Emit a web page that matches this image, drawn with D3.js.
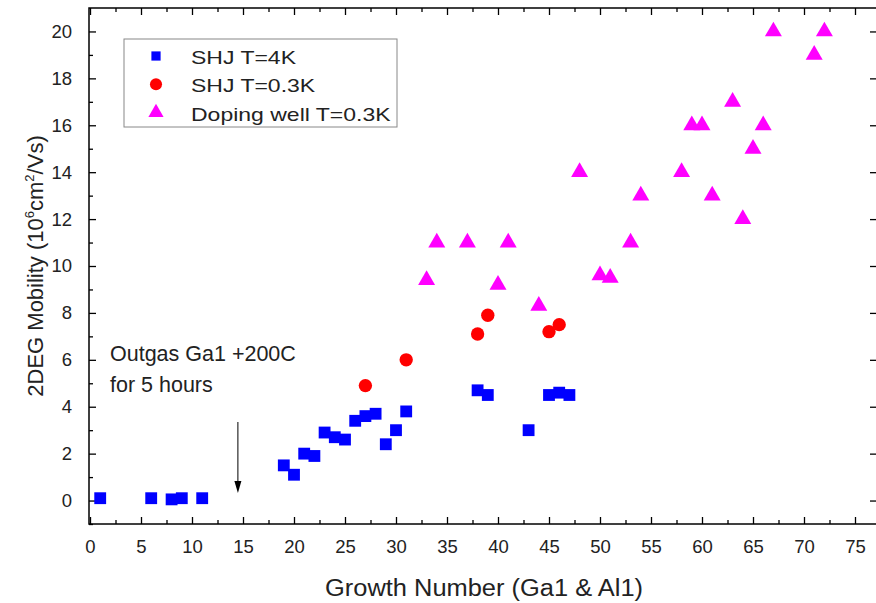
<!DOCTYPE html>
<html>
<head>
<meta charset="utf-8">
<script src="https://cdn.jsdelivr.net/npm/d3@7"></script>
<style>
body { margin: 0; background: #fff; }
svg { font-family: "Liberation Sans", Arial, sans-serif; }
</style>
</head>
<body>
<svg id="svg1" width="876" height="603"></svg>
<script>
// SHJ T=4K
var shj4X = [1, 6, 8, 9, 11, 19, 20, 21, 22, 23, 24, 25, 26, 27, 28, 29, 30, 31, 38, 39, 43, 45, 46, 47];
var shj4Y = [0.1, 0.1, 0.05, 0.1, 0.1, 1.5, 1.1, 2.0, 1.9, 2.9, 2.7, 2.6, 3.4, 3.6, 3.7, 2.4, 3.0, 3.8, 4.7, 4.5, 3.0, 4.5, 4.6, 4.5];
// SHJ T=0.3K
var shj03X = [27, 31, 38, 39, 45, 46];
var shj03Y = [4.9, 6.0, 7.1, 7.9, 7.2, 7.5];
// Doping well T=0.3K
var dopeX = [33, 34, 37, 40, 41, 44, 48, 50, 51, 53, 54, 58, 59, 60, 61, 63, 64, 65, 66, 67, 71, 72];
var dopeY = [9.4, 11.0, 11.0, 9.2, 11.0, 8.3, 14.0, 9.6, 9.5, 11.0, 13.0, 14.0, 16.0, 16.0, 13.0, 17.0, 12.0, 15.0, 16.0, 20.0, 19.0, 20.0];

var xTicks = d3.range(0, 76, 5);
var yTicks = d3.range(0, 21, 2);
var seriesNames = ['SHJ T=4K', 'SHJ T=0.3K', 'Doping well T=0.3K'];

var svg = d3.select('svg');
var pLeft = 89, pRight = 876, pTop = 8, pBottom = 524;

var x = d3.scaleLinear().domain([0, 77]).range([pLeft + 1, pLeft + 1 + 77 * 10.2]);
var y = d3.scaleLinear().domain([-1, 21]).range([pBottom, pTop]);

// frame
svg.append('rect')
    .attr('x', pLeft).attr('y', pTop)
    .attr('width', pRight - pLeft + 2).attr('height', pBottom - pTop)
    .attr('fill', 'none').attr('stroke', '#000').attr('stroke-width', 1.5);

// bottom axis
var xAxis = svg.append('g')
    .attr('transform', 'translate(0,' + pBottom + ')')
    .call(d3.axisBottom(x).tickValues(xTicks).tickSize(-7).tickPadding(16).tickFormat(d3.format('d')));
xAxis.select('.domain').remove();
xAxis.selectAll('text').attr('font-size', 18.5).attr('font-family', 'Liberation Sans, Arial, sans-serif').attr('fill', '#222');
svg.append('g')
    .attr('transform', 'translate(0,' + pBottom + ')')
    .call(d3.axisBottom(x).tickValues(d3.range(2.5, 77, 5)).tickSize(-4).tickFormat(''))
    .select('.domain').remove();

// top axis (mirror)
svg.append('g')
    .attr('transform', 'translate(0,' + pTop + ')')
    .call(d3.axisTop(x).tickValues(xTicks).tickSize(-7).tickFormat(''))
    .select('.domain').remove();
svg.append('g')
    .attr('transform', 'translate(0,' + pTop + ')')
    .call(d3.axisTop(x).tickValues(d3.range(2.5, 77, 5)).tickSize(-4).tickFormat(''))
    .select('.domain').remove();

// left axis
var yAxis = svg.append('g')
    .attr('transform', 'translate(' + pLeft + ',0)')
    .call(d3.axisLeft(y).tickValues(yTicks).tickSize(-7).tickPadding(17));
yAxis.select('.domain').remove();
yAxis.selectAll('text').attr('font-size', 18.5).attr('font-family', 'Liberation Sans, Arial, sans-serif').attr('fill', '#222');
svg.append('g')
    .attr('transform', 'translate(' + pLeft + ',0)')
    .call(d3.axisLeft(y).tickValues(d3.range(-1, 21, 2)).tickSize(-4).tickFormat(''))
    .select('.domain').remove();

// right axis (mirror)
svg.append('g')
    .attr('transform', 'translate(' + (pRight + 1) + ',0)')
    .call(d3.axisRight(y).tickValues(yTicks).tickSize(-7).tickFormat(''))
    .select('.domain').remove();

svg.selectAll('.tick line').attr('stroke', '#000').attr('stroke-width', 1.3);

// axis titles
svg.append('text')
    .attr('x', 484).attr('y', 596)
    .attr('text-anchor', 'middle')
    .attr('font-size', 23).attr('fill', '#222')
    .attr('textLength', 318).attr('lengthAdjust', 'spacingAndGlyphs')
    .text('Growth Number (Ga1 & Al1)');

var yl = svg.append('text')
    .attr('transform', 'translate(43,266) rotate(-90)')
    .attr('text-anchor', 'middle')
    .attr('font-size', 22).attr('fill', '#222');
yl.append('tspan').text('2DEG Mobility (10');
yl.append('tspan').attr('font-size', 13).attr('dy', -9).text('6');
yl.append('tspan').attr('dy', 9).text('cm');
yl.append('tspan').attr('font-size', 13).attr('dy', -9).text('2');
yl.append('tspan').attr('dy', 9).text('/Vs)');

var square = d3.symbol().type(d3.symbolSquare).size(140);
var circle = d3.symbol().type(d3.symbolCircle).size(140);
var triangle = d3.symbol().type(d3.symbolTriangle).size(125);

function plot(xs, ys, sym, color) {
    svg.append('g').selectAll('path')
        .data(xs.map(function(d, i){ return [d, ys[i]]; }))
        .enter()
        .append('path')
        .attr('d', sym)
        .attr('fill', color)
        .attr('transform', function(d){ return 'translate(' + x(d[0]) + ',' + y(d[1]) + ')'; });
}

plot(shj4X, shj4Y, square, '#0000ff');
plot(shj03X, shj03Y, circle, '#ff0000');
plot(dopeX, dopeY, triangle, '#ff00ff');

// annotation
svg.append('text').attr('x', 110).attr('y', 361).attr('font-size', 21.5).attr('fill', '#222').text('Outgas Ga1 +200C');
svg.append('text').attr('x', 110).attr('y', 392).attr('font-size', 21.5).attr('fill', '#222').text('for 5 hours');
svg.append('line')
    .attr('x1', x(14.5)).attr('x2', x(14.5))
    .attr('y1', 422).attr('y2', 484)
    .attr('stroke', '#000').attr('stroke-width', 1);
svg.append('path')
    .attr('d', 'M' + (x(14.5) - 3.5) + ',481 L' + (x(14.5) + 3.5) + ',481 L' + x(14.5) + ',493 Z')
    .attr('fill', '#000');

// legend
var legend = svg.append('g');
legend.append('rect')
    .attr('x', 124).attr('y', 39).attr('width', 273).attr('height', 88)
    .attr('fill', '#fff').attr('stroke', '#888').attr('stroke-width', 1);
var legCols = ['#0000ff', '#ff0000', '#ff00ff'];
var legSizes = [85, 115, 100];
seriesNames.forEach(function(n, i) {
    var ly = 64 + i * 28.3;
    legend.append('path')
        .attr('d', d3.symbol().type([d3.symbolSquare, d3.symbolCircle, d3.symbolTriangle][i]).size(legSizes[i]))
        .attr('fill', legCols[i])
        .attr('transform', 'translate(156,' + (ly - 8) + ')');
    var t = legend.append('text')
        .attr('x', 191).attr('y', ly)
        .attr('font-size', 19).attr('fill', '#222')
        .text(n);
    // legend text in the original is drawn a bit wider than the font
    t.attr('textLength', t.node().getComputedTextLength() * 1.21)
        .attr('lengthAdjust', 'spacingAndGlyphs');
});
</script>
</body>
</html>
